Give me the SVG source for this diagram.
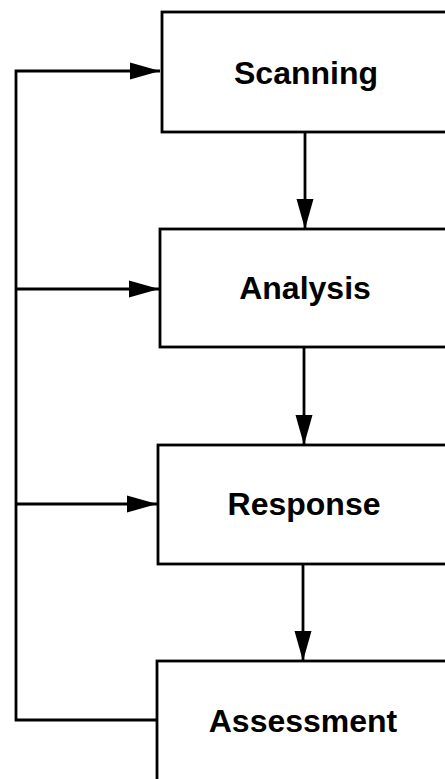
<svg xmlns="http://www.w3.org/2000/svg" width="445" height="779" viewBox="0 0 445 779">
<style>
.box{fill:#fff;stroke:#000;stroke-width:2.8}
.lbl{font-family:"Liberation Sans",Arial,Helvetica,sans-serif;font-weight:bold;font-size:32px;fill:#000;text-anchor:middle}
.ln{fill:none;stroke:#000;stroke-width:2.8}
</style>
<defs>
<marker id="ah" markerUnits="userSpaceOnUse" markerWidth="30" markerHeight="18" viewBox="0 0 30 18" refX="30" refY="9" orient="auto">
<path d="M0,0.5 L30,9 L0,17.5 Z" fill="#000"/>
</marker>
</defs>
<rect width="445" height="779" fill="#fff"/>
<g id="connectors">
<path class="ln" d="M160,720 H16 V71 H160" marker-end="url(#ah)"/>
<path class="ln" d="M16,289 H159" marker-end="url(#ah)"/>
<path class="ln" d="M16,504 H157" marker-end="url(#ah)"/>
<path class="ln" d="M305,132 V229" marker-end="url(#ah)"/>
<path class="ln" d="M304,347 V445" marker-end="url(#ah)"/>
<path class="ln" d="M303,564 V661" marker-end="url(#ah)"/>
</g>
<g id="scanning">
<rect class="box" x="162" y="12" width="300" height="120"/>
<text class="lbl" x="306" y="84">Scanning</text>
</g>
<g id="analysis">
<rect class="box" x="160" y="229" width="300" height="118"/>
<text class="lbl" x="305" y="299">Analysis</text>
</g>
<g id="response">
<rect class="box" x="158" y="445" width="300" height="119"/>
<text class="lbl" x="304" y="515">Response</text>
</g>
<g id="assessment">
<rect class="box" x="157" y="661" width="300" height="140"/>
<text class="lbl" x="303" y="732">Assessment</text>
</g>
</svg>
